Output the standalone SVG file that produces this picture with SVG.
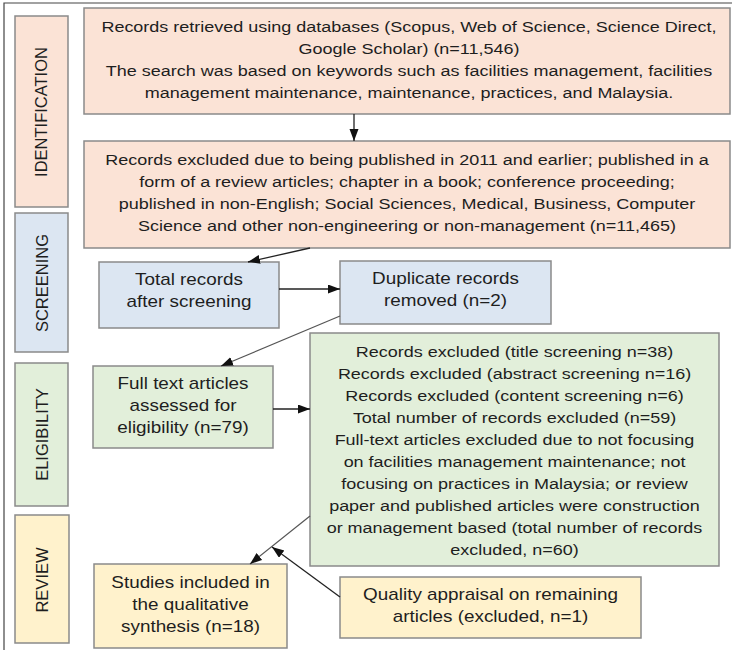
<svg xmlns="http://www.w3.org/2000/svg" width="732" height="650" viewBox="0 0 732 650">
<defs>
<style>
.bx{stroke:#8a8a8a;stroke-width:1.5}
.pe{fill:#fbe3d6}
.bl{fill:#dce6f2}
.gr{fill:#e2efda}
.ye{fill:#fff2cc}
text{font-family:"Liberation Sans",Arial,sans-serif;fill:#1e1e1e;text-anchor:middle}
.t15 text{font-size:15px}
.t16 text{font-size:16px}
.lab{font-size:16.5px}
.ar{stroke:#222;stroke-width:1.3;fill:none;marker-end:url(#ah)}
.ag{stroke:#555;stroke-width:1.2;fill:none;marker-end:url(#ah)}
</style>
<marker id="ah" markerUnits="userSpaceOnUse" markerWidth="13" markerHeight="10" refX="12" refY="4.5" orient="auto" viewBox="0 0 13 10">
<path d="M0,0 L12,4.5 L0,9 z" fill="#111"/>
</marker>
</defs>
<rect width="732" height="650" fill="#fff"/>
<path d="M4,650 V3 H732" fill="none" stroke="#444" stroke-width="1.2"/>

<g id="stage-identification">
<rect class="bx pe" x="15" y="16" width="53" height="191"/>
<text class="lab" transform="translate(47,112) rotate(-90)">IDENTIFICATION</text>
</g>
<g id="stage-screening">
<rect class="bx bl" x="15" y="213" width="53" height="139"/>
<text class="lab" transform="translate(47.5,283) rotate(-90)">SCREENING</text>
</g>
<g id="stage-eligibility">
<rect class="bx gr" x="15" y="363" width="53" height="143"/>
<text class="lab" transform="translate(47.5,434.5) rotate(-90)">ELIGIBILITY</text>
</g>
<g id="stage-review">
<rect class="bx ye" x="15" y="515" width="54" height="128"/>
<text class="lab" transform="translate(47.5,580) rotate(-90)">REVIEW</text>
</g>

<g id="records-retrieved">
<rect class="bx pe" x="84" y="8" width="646" height="106"/>
<g class="t15" transform="translate(409,0) scale(1.2,1)">
<text x="0" y="32">Records retrieved using databases (Scopus, Web of Science, Science Direct,</text>
<text x="0" y="54">Google Scholar) (n=11,546)</text>
<text x="0" y="76">The search was based on keywords such as facilities management, facilities</text>
<text x="0" y="98">management maintenance, maintenance, practices, and Malaysia.</text>
</g>
</g>

<g id="records-excluded">
<rect class="bx pe" x="84" y="141" width="646" height="107"/>
<g class="t15" transform="translate(407,0) scale(1.2,1)">
<text x="0" y="165">Records excluded due to being published in 2011 and earlier; published in a</text>
<text x="0" y="187">form of a review articles; chapter in a book; conference proceeding;</text>
<text x="0" y="209">published in non-English; Social Sciences, Medical, Business, Computer</text>
<text x="0" y="231">Science and other non-engineering or non-management (n=11,465)</text>
</g>
</g>

<g id="total-records">
<rect class="bx bl" x="99" y="262" width="180" height="66"/>
<g class="t16" transform="translate(189,0) scale(1.18,1)">
<text x="0" y="285">Total records</text>
<text x="0" y="307">after screening</text>
</g>
</g>

<g id="duplicate-records">
<rect class="bx bl" x="340" y="261" width="211" height="63"/>
<g class="t16" transform="translate(445.5,0) scale(1.18,1)">
<text x="0" y="284">Duplicate records</text>
<text x="0" y="306">removed (n=2)</text>
</g>
</g>

<g id="full-text">
<rect class="bx gr" x="93" y="366" width="180" height="82"/>
<g class="t16" transform="translate(183,0) scale(1.18,1)">
<text x="0" y="389">Full text articles</text>
<text x="0" y="411">assessed for</text>
<text x="0" y="433">eligibility (n=79)</text>
</g>
</g>

<g id="eligibility-excluded">
<rect class="bx gr" x="310" y="333" width="409" height="233"/>
<g class="t15" transform="translate(514.5,0) scale(1.2,1)">
<text x="0" y="357">Records excluded (title screening n=38)</text>
<text x="0" y="379">Records excluded (abstract screening n=16)</text>
<text x="0" y="401">Records excluded (content screening n=6)</text>
<text x="0" y="423">Total number of records excluded (n=59)</text>
<text x="0" y="445">Full-text articles excluded due to not focusing</text>
<text x="0" y="467">on facilities management maintenance; not</text>
<text x="0" y="489">focusing on practices in Malaysia; or review</text>
<text x="0" y="511">paper and published articles were construction</text>
<text x="0" y="533">or management based (total number of records</text>
<text x="0" y="555">excluded, n=60)</text>
</g>
</g>

<g id="studies-included">
<rect class="bx ye" x="94" y="564" width="193" height="84"/>
<g class="t16" transform="translate(190.5,0) scale(1.18,1)">
<text x="0" y="588">Studies included in</text>
<text x="0" y="610">the qualitative</text>
<text x="0" y="632">synthesis (n=18)</text>
</g>
</g>

<g id="quality-appraisal">
<rect class="bx ye" x="340" y="577" width="301" height="61"/>
<g class="t16" transform="translate(490.5,0) scale(1.18,1)">
<text x="0" y="600">Quality appraisal on remaining</text>
<text x="0" y="622">articles (excluded, n=1)</text>
</g>
</g>

<g id="connectors">
<path class="ar" d="M354,114 V141"/>
<path class="ar" d="M310,248 L248,262"/>
<path class="ar" d="M279,289 H340"/>
<path class="ag" d="M340,316 L221,366"/>
<path class="ar" d="M273,409 H310"/>
<path class="ag" d="M310,516 L250,564"/>
<path class="ar" d="M340,597 L272,547"/>
</g>
</svg>
